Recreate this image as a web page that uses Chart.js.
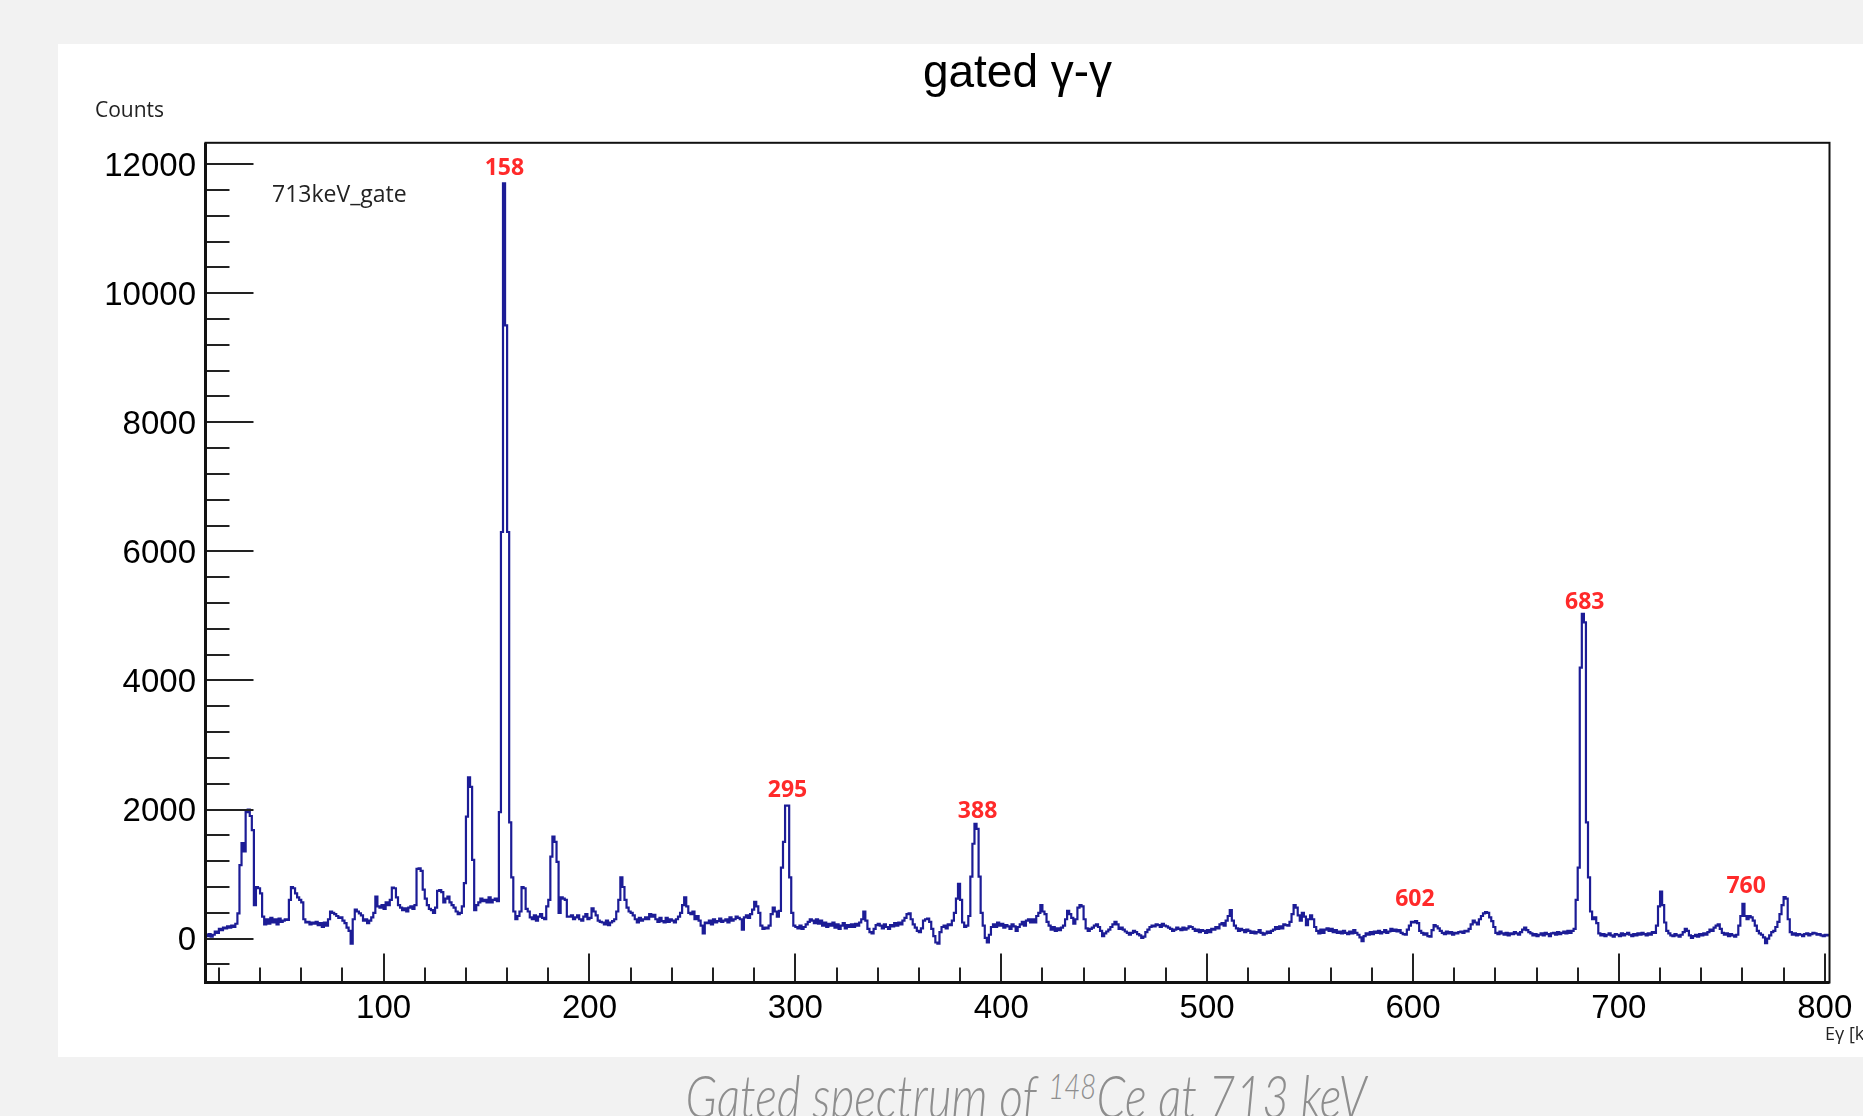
<!DOCTYPE html>
<html>
<head>
<meta charset="utf-8">
<title>gated gamma-gamma</title>
<script src="https://cdn.jsdelivr.net/npm/chart.js@4.4.0/dist/chart.umd.min.js"></script>
<style>
  html, body { margin: 0; padding: 0; width: 1863px; height: 1116px; overflow: hidden; background: #f2f2f2; }
  #panel { position: absolute; left: 58px; top: 44px; width: 1805px; height: 1013px; background: #fff; }
  #caption { position: absolute; left: 526px; width: 1000px; top: 1065px; text-align: center;
    font-family: Lato, "Open Sans", sans-serif; font-style: italic; font-weight: 300; font-size: 60px;
    line-height: 60px; color: #8e8e8e; white-space: nowrap; transform: scaleX(0.77); transform-origin: center top; }
  #caption sup { font-size: 0.6em; line-height: 0; vertical-align: 0.52em; }
</style>
</head>
<body>
<div id="panel"><canvas id="spectrum"></canvas></div>
<div id="caption">Gated spectrum of <sup>148</sup>Ce at 713 keV</div>
<script>
// histogram: 1 keV bins, first bin starts at 13 keV
var firstBin = 13;
var counts = [
  60, 40, 70, 30, 60, 110, 90,
  150, 130, 170, 160, 190, 170, 200, 180, 230, 390,
  1140, 1480, 1350, 1960, 2000, 1900, 1680, 520, 800, 780,
  700, 340, 220, 300, 230, 320, 250, 300, 220, 310,
  260, 280, 300, 290, 600, 800, 780, 700, 640, 600,
  560, 300, 250, 260, 220, 250, 230, 260, 210, 240,
  180, 250, 200, 300, 420, 400, 380, 350, 320, 330,
  280, 240, 170, 120, -80, 300, 450, 420, 390, 360,
  280, 300, 240, 280, 330, 400, 650, 500, 480, 520,
  460, 560, 520, 600, 790, 780, 640, 520, 480, 440,
  470, 420, 480, 500, 460, 520, 1080, 1090, 1050, 760,
  620, 520, 460, 440, 400, 480, 740, 750, 720, 560,
  620, 650, 560, 520, 480, 420, 380, 400, 500, 860,
  1890, 2500, 2350, 1220, 440, 520, 560, 620, 580, 600,
  560, 640, 560, 600, 620, 580, 1960, 6300, 11700, 9500,
  6300, 1800, 950, 420, 300, 350, 420, 800, 780, 460,
  420, 330, 300, 360, 280, 340, 380, 320, 300, 500,
  600, 1270, 1580, 1500, 1190, 400, 640, 620, 600, 340,
  340, 360, 300, 330, 360, 300, 280, 340, 380, 300,
  320, 470, 420, 360, 280, 260, 250, 220, 280, 210,
  250, 270, 300, 420, 600, 950, 800, 600, 480, 420,
  400, 360, 300, 250, 320, 280, 300, 330, 300, 380,
  340, 370, 300, 260, 320, 270, 250, 320, 260, 300,
  280, 250, 300, 340, 400, 520, 640, 500, 400, 380,
  420, 300, 350, 280, 200, 80, 250, 240, 280, 220,
  300, 250, 270, 310, 260, 280, 300, 250, 330, 280,
  300, 340, 320, 300, 140, 330, 360, 320, 380, 450,
  570, 500, 400, 200, 150, 170, 160, 200, 380, 480,
  420, 340, 430, 1100, 1500, 2060, 2060, 950, 400, 200,
  180, 160, 200, 150, 180, 220, 260, 300, 280, 240,
  300, 230, 280, 200, 250, 180, 230, 200, 250, 170,
  220, 150, 200, 240, 160, 210, 180, 220, 180, 230,
  200, 250, 300, 420, 280, 150, 100, 80, 150, 210,
  230, 200, 160, 220, 180, 150, 210, 190, 240, 200,
  250, 220, 280, 320, 380, 390, 300, 220, 170, 120,
  100, 160, 280, 300, 310, 260, 150, 40, -60, -80,
  100, 180, 200, 160, 220, 210, 280, 400, 620, 850,
  600, 250, 180, 200, 350, 960, 1470, 1780, 1700, 960,
  400, 200, 10, -60, 60, 180, 220, 180, 250, 200,
  230, 170, 210, 190, 150, 220, 190, 120, 180, 220,
  260, 200, 280, 300, 250, 300, 250, 350, 400, 520,
  420, 380, 260, 200, 140, 180, 120, 160, 130, 170,
  200, 300, 430, 380, 320, 230, 300, 480, 520, 500,
  300, 160, 120, 150, 170, 200, 220, 180, 120, 40,
  80, 110, 140, 180, 220, 260, 220, 150, 170, 140,
  110, 90, 60, 90, 120, 100, 70, 50, 10, 30,
  100, 140, 180, 200, 190, 220, 210, 180, 230, 200,
  190, 170, 150, 120, 140, 170, 150, 130, 170, 140,
  160, 190, 180, 150, 120, 140, 100, 130, 120, 90,
  130, 100, 150, 140, 180, 160, 220, 240, 200, 280,
  350, 440, 280, 200, 160, 120, 150, 130, 100, 140,
  120, 90, 110, 80, 100, 130, 90, 60, 80, 110,
  90, 120, 140, 180, 150, 190, 160, 220, 210, 200,
  260, 380, 520, 480, 360, 280, 400, 340, 210, 300,
  360, 300, 180, 120, 80, 140, 90, 140, 160, 120,
  150, 100, 130, 90, 110, 80, 120, 90, 70, 110,
  80, 130, 90, 60, 20, -40, 40, 80, 60, 100,
  70, 110, 90, 120, 80, 100, 130, 90, 110, 150,
  120, 140, 110, 130, 90, 70, 60, 140, 200, 260,
  250, 270, 240, 120, 90, 60, 80, 40, 30, 130,
  210, 190, 160, 120, 90, 70, 110, 80, 100, 60,
  90, 80, 100, 110, 90, 120, 110, 150, 220, 280,
  250, 220, 300, 350, 390, 410, 400, 330, 270, 180,
  90, 70, 110, 80, 60, 90, 50, 80, 70, 100,
  80, 60, 100, 140, 170, 130, 100, 80, 50, 70,
  40, 60, 80, 50, 90, 70, 40, 80, 90, 60,
  100, 70, 90, 110, 80, 120, 90, 120, 150, 600,
  1100, 4200, 5030, 4900, 1800, 950, 420, 300, 330, 240,
  80, 50, 70, 40, 60, 80, 50, 30, 70, 60,
  40, 80, 50, 70, 90, 60, 40, 70, 50, 80,
  60, 90, 70, 50, 80, 60, 100, 90, 200, 500,
  730, 520, 250, 120, 80, 50, 40, 70, 50, 30,
  60, 100, 150, 120, 50, 10, 40, 60, 30, 70,
  50, 80, 60, 100, 140, 120, 170, 200, 220, 150,
  90, 60, 80, 40, 70, 50, 30, 60, 200, 350,
  540, 350, 300, 350, 330, 280, 200, 120, 80, 60,
  20, -70, 0, 50, 100, 120, 180, 260, 380, 520,
  645, 620, 300, 100, 60, 80, 50, 70, 60, 40,
  70, 80, 50, 70, 90, 80, 60, 70, 50, 40,
  60, 50, 60
];

var xTickLabels = [100, 200, 300, 400, 500, 600, 700, 800];
var yTickLabels = [0, 2000, 4000, 6000, 8000, 10000, 12000];

// red peak annotations: energy label, anchor energy, anchor counts
var peakNames = ['158', '295', '388', '602', '683', '760'];
var peakLabelE = [158.7, 296.2, 388.5, 600.9, 683.4, 761.8];
var peakLabelC = [11940, 2300, 1970, 610, 5210, 810];

var points = [];
for (var i = 0; i < counts.length; i++) {
  points.push({ x: firstBin + i + 0.5, y: counts[i] });
}

// ROOT style frame, inward ticks and text
var rootFrame = {
  id: 'rootFrame',
  afterDraw: function(chart) {
    var ctx = chart.ctx;
    var a = chart.chartArea;
    var xs = chart.scales.x, ys = chart.scales.y;
    ctx.save();

    ctx.strokeStyle = '#222';
    ctx.lineWidth = 2;
    for (var v = -400; v <= 12000; v += 400) {
      var py = Math.round(ys.getPixelForValue(v));
      var len = (v % 2000 === 0) ? 48 : 24;
      ctx.beginPath(); ctx.moveTo(a.left, py); ctx.lineTo(a.left + len, py); ctx.stroke();
    }
    for (var e = 20; e <= 800; e += 20) {
      var px = Math.round(xs.getPixelForValue(e));
      var l2 = (e % 100 === 0) ? 29 : 15;
      ctx.beginPath(); ctx.moveTo(px, a.bottom); ctx.lineTo(px, a.bottom - l2); ctx.stroke();
    }

    ctx.strokeStyle = '#111';
    ctx.lineWidth = 2;
    ctx.strokeRect(a.left, a.top, a.right - a.left, a.bottom - a.top);
    ctx.lineWidth = 3;
    ctx.beginPath();
    ctx.moveTo(a.left, a.top); ctx.lineTo(a.left, a.bottom); ctx.lineTo(a.right, a.bottom);
    ctx.stroke();

    ctx.fillStyle = '#ff2a2a';
    ctx.font = 'bold 23px "Open Sans", sans-serif';
    ctx.textAlign = 'center';
    ctx.textBaseline = 'middle';
    for (var k = 0; k < peakNames.length; k++) {
      ctx.fillText(peakNames[k], xs.getPixelForValue(peakLabelE[k]), ys.getPixelForValue(peakLabelC[k]));
    }

    ctx.fillStyle = '#222';
    ctx.textAlign = 'left';
    ctx.font = '21px "Open Sans", sans-serif';
    ctx.fillText('Counts', 37, 67.5);
    ctx.font = '23px "Open Sans", sans-serif';
    ctx.fillText('713keV_gate', 214, 151);
    ctx.font = '18px "Open Sans", sans-serif';
    ctx.fillText('E\u03b3 [keV]', 1767, 991);
    ctx.restore();
  }
};

var tickFont = { family: '"Liberation Sans", Arial, Helvetica, sans-serif', size: 33 };
var plainLabel = function(value) { return String(value); };

new Chart(document.getElementById('spectrum'), {
  type: 'line',
  data: {
    datasets: [{
      label: '713keV_gate',
      data: points,
      stepped: 'middle',
      borderColor: '#1c1c96',
      borderWidth: 2.2,
      pointRadius: 0,
      fill: false
    }]
  },
  options: {
    responsive: true,
    maintainAspectRatio: false,
    animation: false,
    layout: { padding: { left: 0, right: 33.5, top: 0, bottom: 0 } },
    plugins: {
      legend: { display: false },
      tooltip: { enabled: false },
      title: {
        display: true,
        text: 'gated \u03b3-\u03b3',
        fullSize: false,
        color: '#000',
        font: { family: '"Liberation Sans", Arial, Helvetica, sans-serif', size: 46, weight: 'normal' },
        padding: { top: 3, bottom: 40.6 }
      }
    },
    scales: {
      x: {
        type: 'linear',
        min: 13.5,
        max: 802.3,
        grid: { display: false, drawTicks: false },
        border: { display: false },
        ticks: { font: tickFont, color: '#000', padding: 7, maxRotation: 0, autoSkip: false, callback: plainLabel },
        afterBuildTicks: function(s) { s.ticks = xTickLabels.map(function(v) { return { value: v }; }); },
        afterFit: function(s) { s.height = 74.5; }
      },
      y: {
        type: 'linear',
        min: -680,
        max: 12330,
        grid: { display: false, drawTicks: false },
        border: { display: false },
        ticks: { font: tickFont, color: '#000', padding: 9.5, labelOffset: 2.5, autoSkip: false, callback: plainLabel },
        afterBuildTicks: function(s) { s.ticks = yTickLabels.map(function(v) { return { value: v }; }); },
        afterFit: function(s) { s.width = 147.5; }
      }
    }
  },
  plugins: [rootFrame]
});
</script>
</body>
</html>
